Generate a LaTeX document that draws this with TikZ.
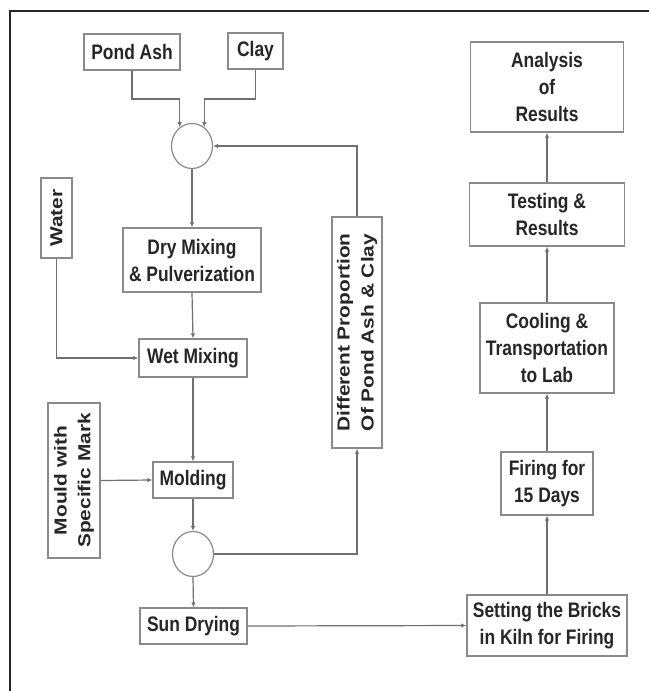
\documentclass[tikz,border=0pt]{standalone}
\usepackage{fontspec}
\newfontfamily\hfont{Liberation Sans}[FakeStretch=0.83]
\newfontfamily\vfont{Liberation Sans}[FakeStretch=1.2]
\usetikzlibrary{arrows.meta,shapes.geometric}
\definecolor{boxgray}{HTML}{8A8A8A}
\definecolor{linegray}{HTML}{707070}
\definecolor{txt}{HTML}{262626}
\tikzset{
  hbox/.style={draw=boxgray, line width=1.4pt, inner sep=0pt, text=txt, align=center,
    font=\hfont\bfseries\fontsize{21}{27}\selectfont},
  vbox/.style={draw=boxgray, line width=1.4pt, inner sep=0pt, text=txt, align=center, rotate=90,
    font=\vfont\bfseries\fontsize{17.4}{24}\selectfont},
  junc/.style={draw=boxgray, line width=1.2pt, ellipse, inner sep=0pt, minimum width=41pt, minimum height=45pt},
  conn/.style={draw=linegray, line width=1.2pt},
  arr/.style={conn, -{Latex[length=5pt,width=4.5pt]}},
}
\begin{document}
\begin{tikzpicture}[x=1pt,y=-1pt]
\useasboundingbox (0,0) rectangle (649,691);
\fill[white] (0,0) rectangle (649,691);
\draw[line width=2pt, black!85] (10,691) -- (10,11) -- (649,11);

\node[hbox, minimum width=96pt, minimum height=36pt] (pond) at (132,52) {Pond Ash};
\node[hbox, minimum width=55pt, minimum height=36pt] (clay) at (255.5,51) {Clay};
\node[junc] (c1) at (192,146) {};
\node[hbox, minimum width=138pt, minimum height=64pt] (dry) at (192,260) {Dry Mixing\\\& Pulverization};
\node[vbox, minimum width=80pt, minimum height=31pt] (water) at (56.5,218) {Water};
\node[hbox, minimum width=108pt, minimum height=38pt] (wet) at (193,358) {Wet Mixing};
\node[vbox, minimum width=155pt, minimum height=52pt] (mould) at (74,480.5) {Mould with\\Specific Mark};
\node[hbox, minimum width=80pt, minimum height=36pt] (molding) at (193,480) {Molding};
\node[junc] (c2) at (193,554) {};
\node[vbox, minimum width=231pt, minimum height=50pt] (diff) at (357,332.5) {Different Proportion\\Of Pond Ash \& Clay};
\node[hbox, minimum width=107pt, minimum height=36pt] (sun) at (193.5,626) {Sun Drying};
\node[hbox, minimum width=160pt, minimum height=61pt] (set) at (547,625.5) {Setting the Bricks\\in Kiln for Firing};
\node[hbox, minimum width=92pt, minimum height=63pt] (fire) at (547,483.5) {Firing for\\15 Days};
\node[hbox, minimum width=134pt, minimum height=90pt] (cool) at (547,348) {Cooling \&\\Transportation\\to Lab};
\node[hbox, minimum width=155pt, minimum height=63pt] (test) at (547,214.5) {Testing \&\\Results};
\node[hbox, minimum width=153pt, minimum height=90pt] (anal) at (547,87) {Analysis\\of\\Results};

\coordinate (j1) at (0,99);
\draw[arr] (pond.south) |- (c1.123 |- j1) -- (c1.123);
\draw[arr] (clay.south) |- (c1.57 |- j1) -- (c1.57);
\draw[arr] (diff.east) |- (c1.east);
\draw[arr] (c1.south) -- (dry.north);
\draw[arr] (dry.south) -- (wet.north);
\draw[arr] (water.west) |- (wet.west);
\draw[arr] (wet.south) -- (molding.north);
\draw[arr] (mould.south) -- (molding.west);
\draw[arr] (molding.south) -- (c2.north);
\draw[arr] (c2.east) -| (diff.west);
\draw[arr] (c2.south) -- (sun.north);
\draw[arr] (sun.east) -- (set.west);
\draw[arr] (set.north) -- (fire.south);
\draw[arr] (fire.north) -- (cool.south);
\draw[arr] (cool.north) -- (test.south);
\draw[arr] (test.north) -- (anal.south);
\end{tikzpicture}
\end{document}
